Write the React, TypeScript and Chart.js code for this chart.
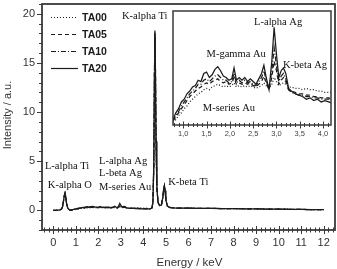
import { useEffect, useRef } from "react";
import { Chart, registerables } from "chart.js";

Chart.register(...registerables);

// ---- data -------------------------------------------------------------

const seriesNames = ["TA00", "TA05", "TA10", "TA20"];
const seriesDash: number[][] = [[1, 2], [4, 3], [5, 2, 1, 2], []];

// below the inset window (keV / a.u.), common to all samples
const lowEnergy = [0, 0.1, 0.2, 0.3, 0.36, 0.41, 0.45, 0.49, 0.52, 0.55, 0.59, 0.64, 0.7];
const lowIntensity = [0, 0.01, 0.02, 0.05, 0.12, 0.35, 0.9, 1.5, 1.75, 1.4, 0.7, 0.25, 0.08];

// the 0.8 - 4.2 keV window shown magnified in the inset
const insetEnergy = [
  0.78, 0.84, 0.9, 0.96, 1.02, 1.08, 1.14, 1.2, 1.26, 1.32, 1.38, 1.44, 1.5, 1.56,
  1.62, 1.68, 1.74, 1.8, 1.86, 1.92, 1.98, 2.04, 2.09, 2.14, 2.2, 2.26, 2.32, 2.38,
  2.44, 2.5, 2.56, 2.62, 2.68, 2.73, 2.78, 2.84, 2.9, 2.95, 3.0, 3.05, 3.1, 3.15,
  3.2, 3.26, 3.32, 3.4, 3.48, 3.56, 3.64, 3.72, 3.8, 3.88, 3.96, 4.04, 4.12, 4.2,
];
const ta00Inset = [
  0.0, 0.02, 0.05, 0.07, 0.1, 0.12, 0.15, 0.17, 0.19, 0.21, 0.22, 0.24, 0.25, 0.24,
  0.26, 0.27, 0.28, 0.27, 0.26, 0.27, 0.26, 0.27, 0.29, 0.26, 0.27, 0.26, 0.27, 0.26,
  0.27, 0.26, 0.25, 0.26, 0.27, 0.29, 0.27, 0.25, 0.28, 0.33, 0.3, 0.27, 0.28, 0.29,
  0.28, 0.26, 0.26, 0.25, 0.25, 0.24, 0.25, 0.24, 0.24, 0.23, 0.23, 0.22, 0.22, 0.22,
];
const ta05Inset = [
  0.01, 0.04, 0.07, 0.1, 0.13, 0.16, 0.19, 0.21, 0.23, 0.25, 0.26, 0.28, 0.29, 0.28,
  0.3, 0.31, 0.32, 0.3, 0.29, 0.3, 0.28, 0.29, 0.33, 0.28, 0.29, 0.28, 0.29, 0.28,
  0.29, 0.27, 0.26, 0.28, 0.3, 0.34, 0.29, 0.24, 0.33, 0.45, 0.38, 0.28, 0.31, 0.33,
  0.3, 0.24, 0.23, 0.22, 0.21, 0.21, 0.2, 0.2, 0.19, 0.19, 0.18, 0.18, 0.18, 0.17,
];
const ta10Inset = [
  0.01, 0.05, 0.08, 0.12, 0.15, 0.18, 0.21, 0.23, 0.25, 0.28, 0.28, 0.31, 0.32, 0.3,
  0.32, 0.34, 0.35, 0.33, 0.31, 0.31, 0.29, 0.3, 0.36, 0.29, 0.31, 0.29, 0.31, 0.29,
  0.3, 0.28, 0.27, 0.3, 0.33, 0.38, 0.31, 0.24, 0.38, 0.55, 0.42, 0.3, 0.34, 0.36,
  0.32, 0.24, 0.22, 0.21, 0.2, 0.2, 0.19, 0.19, 0.18, 0.18, 0.17, 0.17, 0.17, 0.16,
];
const ta20Inset = [
  0.02, 0.07, 0.1, 0.15, 0.17, 0.21, 0.23, 0.26, 0.27, 0.31, 0.3, 0.36, 0.37, 0.33,
  0.35, 0.39, 0.41, 0.38, 0.34, 0.33, 0.31, 0.32, 0.4, 0.31, 0.33, 0.31, 0.33, 0.3,
  0.32, 0.3, 0.28, 0.32, 0.36, 0.42, 0.33, 0.24, 0.45, 0.7, 0.5, 0.33, 0.38, 0.4,
  0.36, 0.25, 0.23, 0.21, 0.2, 0.19, 0.17, 0.18, 0.16, 0.17, 0.15, 0.16, 0.15, 0.14,
];
const insetSeries = [ta00Inset, ta05Inset, ta10Inset, ta20Inset];

// Ti K lines and the tail of the spectrum
const highEnergy = [
  4.26, 4.32, 4.38, 4.42, 4.46, 4.49, 4.51, 4.53, 4.56, 4.6, 4.65, 4.72, 4.8, 4.86,
  4.9, 4.93, 4.96, 5.0, 5.06, 5.15, 5.3, 5.6, 6, 6.5, 7, 7.5, 8, 8.5, 9, 9.5, 10,
  10.5, 11, 11.5, 12,
];
const highIntensity = [
  0.14, 0.16, 0.25, 0.8, 4.5, 14, 18.3, 15, 7, 2.2, 0.8, 0.5, 0.55, 1.3, 2.2, 2.5,
  2.0, 1.0, 0.45, 0.3, 0.25, 0.22, 0.22, 0.2, 0.2, 0.18, 0.17, 0.16, 0.15, 0.13,
  0.12, 0.11, 0.09, 0.08, 0.07,
];
const tiKalphaEnergy = 4.51;
const tiKalphaPeak = [17.6, 17.9, 18.1, 18.3];

// axes
const energyTicks = [0, 1, 2, 3, 4, 5, 6, 7, 8, 9, 10, 11, 12];
const intensityTicks = [0, 5, 10, 15, 20];
const insetTicks = [1.0, 1.5, 2.0, 2.5, 3.0, 3.5, 4.0];
const insetTickLabels = ["1,0", "1,5", "2,0", "2,5", "3,0", "3,5", "4,0"];

// peak labels: [text, energy, intensity] (left edge, vertical middle)
const mainPeakLabels: [string, number, number][] = [
  ["K-alpha Ti", 3.05, 19.8],
  ["L-alpha Ti", -0.37, 4.5],
  ["K-alpha O", -0.24, 2.6],
  ["L-alpha Ag", 2.03, 5.0],
  ["L-beta Ag", 2.03, 3.8],
  ["M-series Au", 2.03, 2.4],
  ["K-beta Ti", 5.1, 2.9],
];
const insetPeakLabels: [string, number, number][] = [
  ["L-alpha Ag", 2.52, 0.735],
  ["M-gamma Au", 1.5, 0.498],
  ["K-beta Ag", 3.14, 0.42],
  ["M-series Au", 1.42, 0.106],
];

// ---- drawing helpers ----------------------------------------------------

const INK = "#1c1c1c";
const AXIS = "#3a3a3a";
const SANS = "'Liberation Sans', Arial, sans-serif";
const SERIF = "'Liberation Serif', 'Times New Roman', serif";

function buildSeries(i: number) {
  const pts: { x: number; y: number }[] = [];
  lowEnergy.forEach((e, k) => pts.push({ x: e, y: lowIntensity[k] }));
  insetEnergy.forEach((e, k) => pts.push({ x: e, y: insetSeries[i][k] }));
  highEnergy.forEach((e, k) =>
    pts.push({ x: e, y: e === tiKalphaEnergy ? tiKalphaPeak[i] : highIntensity[k] })
  );
  return pts;
}

function buildInsetSeries(i: number) {
  return insetEnergy.map((e, k) => ({ x: e, y: insetSeries[i][k] }));
}

function datasets(build: (i: number) => { x: number; y: number }[]) {
  return seriesNames.map((name, i) => ({
    label: name,
    data: build(i),
    borderColor: INK,
    borderWidth: 1.25,
    borderDash: seriesDash[i],
    pointRadius: 0,
    tension: 0,
    fill: false,
    clip: 0,
  }));
}

function drawLabels(chart: any, labels: [string, number, number][], font: string) {
  const ctx = chart.ctx;
  const xs = chart.scales.x;
  const ys = chart.scales.y;
  ctx.save();
  ctx.fillStyle = "#111";
  ctx.font = font;
  ctx.textAlign = "left";
  ctx.textBaseline = "middle";
  labels.forEach(([t, e, v]) => ctx.fillText(t, xs.getPixelForValue(e), ys.getPixelForValue(v)));
  ctx.restore();
}

const mainAxes = {
  id: "mainAxes",
  afterDraw(chart: any) {
    const { ctx, chartArea: a } = chart;
    const xs = chart.scales.x;
    const ys = chart.scales.y;
    ctx.save();
    ctx.strokeStyle = AXIS;
    ctx.lineWidth = 1.8;
    ctx.strokeRect(a.left, a.top, a.right - a.left, a.bottom - a.top);

    ctx.lineWidth = 1;
    // x ticks: majors every keV, minors every 0.2 keV, crossing the axis
    ctx.beginPath();
    for (let k = -2; k <= 62; k++) {
      const v = k / 5;
      const px = Math.round(xs.getPixelForValue(v)) + 0.5;
      const major = k % 5 === 0;
      const len = major ? 4 : 2.5;
      ctx.moveTo(px, a.bottom - len);
      ctx.lineTo(px, a.bottom + len);
    }
    // y ticks: majors every 5, minors every 1, outside
    for (let v = -2; v <= 21; v++) {
      const py = Math.round(ys.getPixelForValue(v)) + 0.5;
      const major = v % 5 === 0;
      ctx.moveTo(a.left - (major ? 5 : 3), py);
      ctx.lineTo(a.left + 1, py);
    }
    ctx.stroke();

    ctx.fillStyle = "#333";
    ctx.font = `11px ${SANS}`;
    ctx.textAlign = "center";
    ctx.textBaseline = "middle";
    energyTicks.forEach((v) => ctx.fillText(String(v), xs.getPixelForValue(v), a.bottom + 13));
    ctx.textAlign = "right";
    intensityTicks.forEach((v) => ctx.fillText(String(v), a.left - 7, ys.getPixelForValue(v)));

    // axis titles
    ctx.textAlign = "center";
    ctx.font = `11.5px ${SANS}`;
    ctx.fillText("Energy / keV", (a.left + a.right) / 2 + 1, a.bottom + 33);
    ctx.save();
    ctx.translate(8, (a.top + a.bottom) / 2 - 2);
    ctx.rotate(-Math.PI / 2);
    ctx.font = `11px ${SANS}`;
    ctx.fillText("Intensity / a.u.", 0, 0);
    ctx.restore();

    // legend
    ctx.font = `bold 10.5px ${SANS}`;
    ctx.textAlign = "left";
    ctx.fillStyle = INK;
    ctx.strokeStyle = INK;
    ctx.lineWidth = 1.2;
    seriesNames.forEach((name, i) => {
      const y = a.top + 13 + i * 17;
      ctx.setLineDash(seriesDash[i]);
      ctx.beginPath();
      ctx.moveTo(a.left + 9, y + 0.5);
      ctx.lineTo(a.left + 36, y + 0.5);
      ctx.stroke();
      ctx.setLineDash([]);
      ctx.fillText(name, a.left + 40, y + 1);
    });
    ctx.restore();

    drawLabels(chart, mainPeakLabels, `10.5px ${SERIF}`);
  },
};

const insetAxes = {
  id: "insetAxes",
  beforeDraw(chart: any) {
    const { ctx, chartArea: a } = chart;
    ctx.save();
    ctx.fillStyle = "#fff";
    ctx.fillRect(a.left, a.top, a.right - a.left, a.bottom - a.top);
    ctx.restore();
  },
  afterDraw(chart: any) {
    const { ctx, chartArea: a } = chart;
    const xs = chart.scales.x;
    ctx.save();
    ctx.strokeStyle = AXIS;
    ctx.lineWidth = 1.5;
    ctx.strokeRect(a.left, a.top, a.right - a.left, a.bottom - a.top);
    ctx.lineWidth = 1;
    ctx.beginPath();
    for (let k = 8; k <= 41; k++) {
      const px = Math.round(xs.getPixelForValue(k / 10)) + 0.5;
      const len = k % 5 === 0 ? 3.5 : 2;
      ctx.moveTo(px, a.bottom - len);
      ctx.lineTo(px, a.bottom + len);
    }
    ctx.stroke();
    ctx.fillStyle = "#444";
    ctx.font = `7.5px ${SANS}`;
    ctx.textAlign = "center";
    ctx.textBaseline = "middle";
    insetTicks.forEach((v, i) => ctx.fillText(insetTickLabels[i], xs.getPixelForValue(v), a.bottom + 9));
    ctx.restore();
    drawLabels(chart, insetPeakLabels, `10.5px ${SERIF}`);
  },
};

const baseOptions = {
  responsive: false,
  animation: false as const,
  events: [] as any[],
  plugins: { legend: { display: false }, tooltip: { enabled: false } },
};

export default function App() {
  const mainRef = useRef<HTMLCanvasElement>(null);
  const insetRef = useRef<HTMLCanvasElement>(null);

  useEffect(() => {
    const main = new Chart(mainRef.current!, {
      type: "line",
      data: { datasets: datasets(buildSeries) as any },
      options: {
        ...baseOptions,
        layout: { padding: { left: 42, right: 2, top: 4, bottom: 39 } },
        scales: {
          x: { type: "linear", min: -0.5, max: 12.5, display: false },
          y: { type: "linear", min: -2, max: 21, display: false },
        },
      } as any,
      plugins: [mainAxes],
    });
    const inset = new Chart(insetRef.current!, {
      type: "line",
      data: { datasets: datasets(buildInsetSeries) as any },
      options: {
        ...baseOptions,
        layout: { padding: { left: 173, right: 6, top: 11, bottom: 144 } },
        scales: {
          x: { type: "linear", min: 0.78, max: 4.17, display: false },
          y: { type: "linear", min: -0.02, max: 0.82, display: false },
        },
      } as any,
      plugins: [insetAxes],
    });
    return () => {
      main.destroy();
      inset.destroy();
    };
  }, []);

  const layer: React.CSSProperties = { position: "absolute", left: 0, top: 0 };
  return (
    <div style={{ position: "absolute", left: 0, top: 0, width: 337, height: 269, background: "#fff" }}>
      <canvas ref={mainRef} width={337} height={269} style={layer} />
      <canvas ref={insetRef} width={337} height={269} style={layer} />
    </div>
  );
}
